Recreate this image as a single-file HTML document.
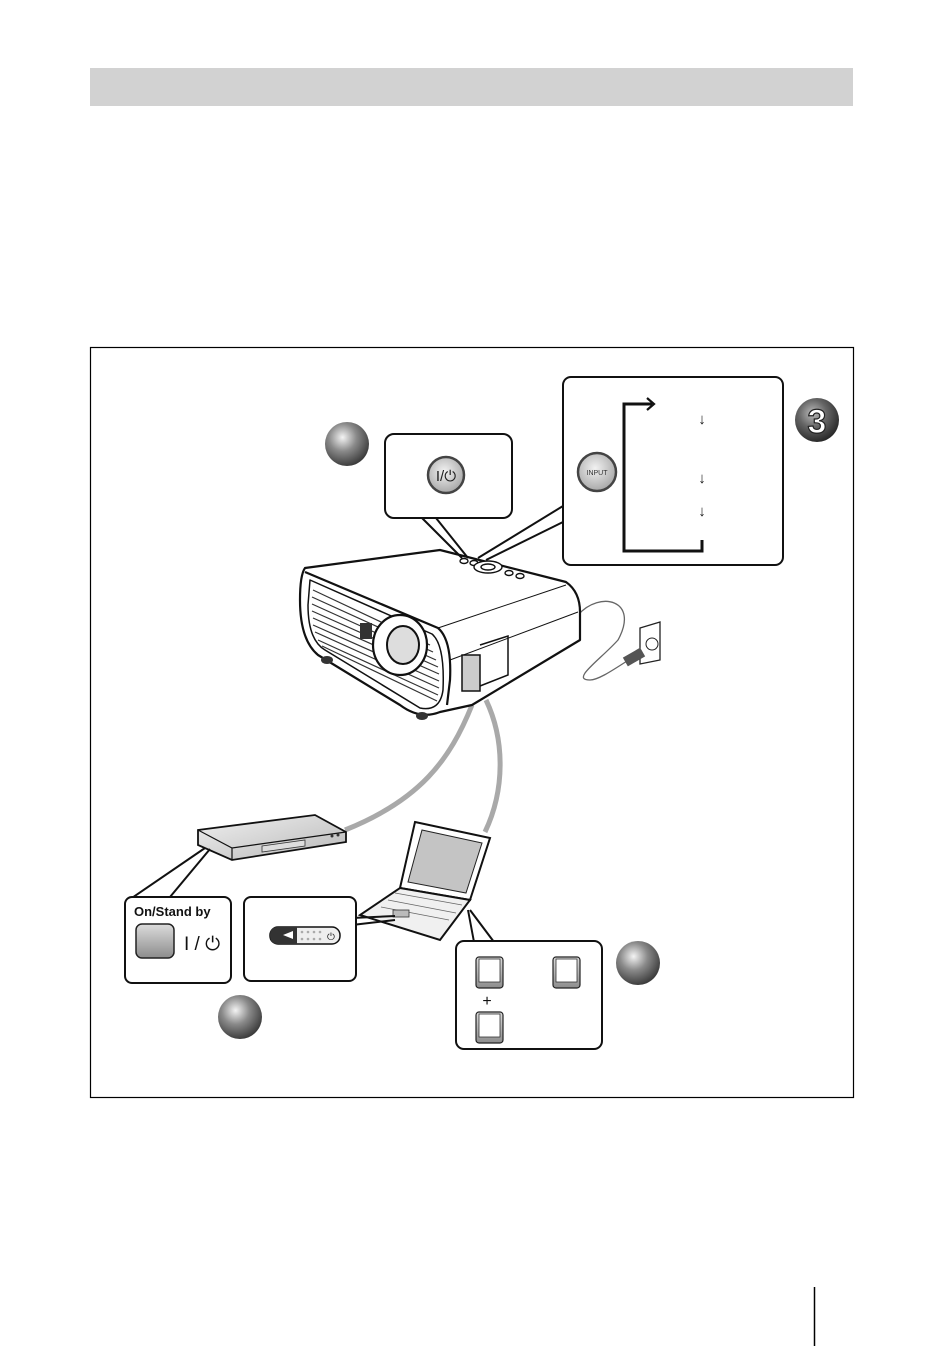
<!DOCTYPE html>
<html><head><meta charset="utf-8"><style>
html,body{margin:0;padding:0;background:#fff;}
svg{display:block;font-family:"Liberation Sans",sans-serif;}
</style></head><body>
<svg width="950" height="1346" viewBox="0 0 950 1346" xmlns="http://www.w3.org/2000/svg">
<defs>
<radialGradient id="ball" cx="0.4" cy="0.35" r="0.7">
<stop offset="0" stop-color="#f4f4f4"/><stop offset="0.45" stop-color="#8a8a8a"/><stop offset="1" stop-color="#333"/>
</radialGradient>
<radialGradient id="ball3" cx="0.4" cy="0.35" r="0.7">
<stop offset="0" stop-color="#bbb"/><stop offset="0.45" stop-color="#666"/><stop offset="1" stop-color="#222"/>
</radialGradient>
<radialGradient id="btn" cx="0.45" cy="0.4" r="0.6">
<stop offset="0" stop-color="#f2f2f2"/><stop offset="1" stop-color="#a8a8a8"/>
</radialGradient>
<linearGradient id="key" x1="0" y1="0" x2="0" y2="1">
<stop offset="0" stop-color="#dcdcdc"/><stop offset="1" stop-color="#8c8c8c"/>
</linearGradient>
<linearGradient id="dvd" x1="0" y1="0" x2="1" y2="1">
<stop offset="0" stop-color="#f0f0f0"/><stop offset="1" stop-color="#b8b8b8"/>
</linearGradient>
</defs>
<rect x="90" y="68" width="763" height="38" fill="#d2d2d2"/>
<rect x="90.5" y="347.5" width="763" height="750" fill="none" stroke="#000" stroke-width="1.2"/>
<line x1="814.5" y1="1287" x2="814.5" y2="1346" stroke="#000" stroke-width="1.5"/>

<g fill="none" stroke="#a9a9a9" stroke-width="5">
<path d="M472 705 C450 760 420 800 345 830"/>
<path d="M486 700 C505 740 505 790 485 832"/>
</g>
<path d="M578 615 C600 590 640 600 618 640 C600 660 570 680 590 680 C600 680 620 665 632 658" fill="none" stroke="#666" stroke-width="1.3"/>
<path d="M640 628 L660 622 L660 660 L640 664 Z" fill="#fff" stroke="#222" stroke-width="1.3"/>
<circle cx="652" cy="644" r="6" fill="none" stroke="#222"/>
<rect x="624" y="652" width="20" height="10" fill="#555" transform="rotate(-30 634 657)"/>

<g stroke="#111" stroke-width="2.2" stroke-linejoin="round">
<path d="M305 568 L440 550 L566 582 Q580 592 580 612 L580 640 L472 705 L440 712 Q420 720 400 705 L318 655 Q300 640 300 600 Q300 575 305 568 Z" fill="#fff"/>
<path d="M305 572 L438 628 Q452 640 450 680 L447 705" fill="none"/>
<path d="M438 628 L566 585" fill="none" stroke-width="1"/>
<path d="M450 660 L578 612" fill="none" stroke-width="1"/>
<path d="M310 580 L432 634 Q445 645 443 690 Q440 712 420 708 L325 650 Q308 640 308 605 Z" fill="#fff" stroke-width="1.5"/>
</g>
<g stroke="#333" stroke-width="1.2">
<line x1="313" y1="590" x2="430" y2="645"/><line x1="312" y1="597" x2="433" y2="652"/><line x1="312" y1="604" x2="436" y2="660"/>
<line x1="312" y1="611" x2="438" y2="667"/><line x1="313" y1="618" x2="439" y2="674"/><line x1="313" y1="625" x2="439" y2="681"/>
<line x1="315" y1="632" x2="439" y2="688"/><line x1="318" y1="640" x2="438" y2="695"/><line x1="322" y1="646" x2="437" y2="701"/>
</g>
<ellipse cx="400" cy="645" rx="27" ry="30" fill="#fff" stroke="#111" stroke-width="2.2"/>
<ellipse cx="403" cy="645" rx="16" ry="19" fill="#ddd" stroke="#111" stroke-width="2"/>
<rect x="360" y="623" width="12" height="16" fill="#333"/>
<rect x="462" y="655" width="18" height="36" fill="#ccc" stroke="#111" stroke-width="1.5"/>
<path d="M480 645 L508 636 L508 675 L480 686" fill="none" stroke="#111" stroke-width="1.5"/>
<g fill="#fff" stroke="#111" stroke-width="1.4">
<ellipse cx="464" cy="561" rx="4" ry="2.5"/><ellipse cx="474" cy="563" rx="4" ry="2.5"/>
<ellipse cx="488" cy="567" rx="14" ry="6"/><ellipse cx="488" cy="567" rx="7" ry="3"/>
<ellipse cx="509" cy="573" rx="4" ry="2.5"/><ellipse cx="520" cy="576" rx="4" ry="2.5"/>
</g>
<ellipse cx="327" cy="660" rx="6" ry="4" fill="#333"/><ellipse cx="422" cy="716" rx="6" ry="4" fill="#333"/>

<g stroke="#111" stroke-width="2" fill="none">
<line x1="422" y1="518" x2="462" y2="558"/><line x1="436" y1="518" x2="468" y2="558"/>
<line x1="563" y1="506" x2="478" y2="558"/><line x1="563" y1="522" x2="486" y2="560"/>
</g>
<rect x="385" y="434" width="127" height="84" rx="9" fill="#fff" stroke="#111" stroke-width="2"/>
<circle cx="446" cy="475" r="18" fill="url(#btn)" stroke="#444" stroke-width="2.5"/>
<text x="446" y="481" font-size="15" text-anchor="middle" fill="#222">I/⏻</text>
<circle cx="347" cy="444" r="22" fill="url(#ball)"/>

<rect x="563" y="377" width="220" height="188" rx="8" fill="#fff" stroke="#111" stroke-width="2"/>
<circle cx="597" cy="472" r="19" fill="url(#btn)" stroke="#444" stroke-width="2.5"/>
<text x="597" y="475" font-size="7" text-anchor="middle" fill="#333">INPUT</text>
<path d="M702 540 L702 551 L624 551 L624 404 L652 404" fill="none" stroke="#111" stroke-width="3"/>
<path d="M647 398 L654 404 L647 410" fill="none" stroke="#111" stroke-width="2.2"/>
<g font-size="15" font-weight="bold" text-anchor="middle" fill="#111"><text x="702" y="424">↓</text><text x="702" y="483">↓</text><text x="702" y="516">↓</text></g>
<circle cx="817" cy="420" r="22" fill="url(#ball3)"/>
<text x="817" y="433" font-size="34" font-weight="bold" text-anchor="middle" fill="#fff" stroke="#222" stroke-width="1.2">3</text>

<path d="M198 830 L315 815 L346 832 L346 842 L232 860 L198 845 Z" fill="url(#dvd)" stroke="#111" stroke-width="1.8"/>
<path d="M198 830 L232 848 L346 832 M232 848 L232 860" fill="none" stroke="#111" stroke-width="1.2"/>
<path d="M262 846 L305 840 L305 846 L262 852 Z" fill="#ddd" stroke="#333" stroke-width="0.8"/>
<circle cx="332" cy="836" r="1.5" fill="#333"/><circle cx="338" cy="835" r="1.5" fill="#333"/>
<line x1="205" y1="848" x2="126" y2="902" stroke="#111" stroke-width="2"/>
<line x1="210" y1="849" x2="170" y2="897" stroke="#111" stroke-width="2"/>
<rect x="125" y="897" width="106" height="86" rx="7" fill="#fff" stroke="#111" stroke-width="2"/>
<text x="134" y="916" font-size="13" font-weight="bold" fill="#111">On/Stand by</text>
<rect x="136" y="924" width="38" height="34" rx="6" fill="url(#key)" stroke="#222" stroke-width="1.5"/>
<text x="184" y="950" font-size="19" fill="#111">I / ⏻</text>
<circle cx="240" cy="1017" r="22" fill="url(#ball)"/>

<path d="M415 822 L490 838 L470 900 L400 888 Z" fill="#fff" stroke="#111" stroke-width="2"/>
<path d="M422 830 L482 843 L466 893 L408 882 Z" fill="#c4c4c4" stroke="#222" stroke-width="1"/>
<path d="M400 888 L470 900 L440 940 L360 915 Z" fill="#f0f0f0" stroke="#111" stroke-width="2"/>
<g stroke="#666" stroke-width="0.8"><line x1="395" y1="893" x2="462" y2="905"/><line x1="388" y1="900" x2="456" y2="913"/><line x1="381" y1="907" x2="449" y2="920"/></g>
<rect x="393" y="910" width="16" height="7" fill="#bbb" stroke="#333" stroke-width="0.8"/>
<line x1="352" y1="918" x2="395" y2="916" stroke="#111" stroke-width="2"/>
<line x1="352" y1="925" x2="395" y2="920" stroke="#111" stroke-width="2"/>
<rect x="244" y="897" width="112" height="84" rx="7" fill="#fff" stroke="#111" stroke-width="2"/>
<rect x="270" y="927" width="70" height="17" rx="8" fill="#eee" stroke="#111" stroke-width="1.5"/>
<path d="M270 935 Q270 927 278 927 L297 927 L297 944 L278 944 Q270 944 270 935Z" fill="#333"/>
<path d="M283 935 L293 931 L293 939Z" fill="#fff"/>
<g fill="#aaa"><circle cx="302" cy="932" r="1.3"/><circle cx="308" cy="932" r="1.3"/><circle cx="314" cy="932" r="1.3"/><circle cx="320" cy="932" r="1.3"/><circle cx="302" cy="939" r="1.3"/><circle cx="308" cy="939" r="1.3"/><circle cx="314" cy="939" r="1.3"/><circle cx="320" cy="939" r="1.3"/></g>
<text x="331" y="940" font-size="10" text-anchor="middle" fill="#222">⏻</text>
<line x1="468" y1="910" x2="474" y2="942" stroke="#111" stroke-width="2"/>
<line x1="470" y1="910" x2="494" y2="942" stroke="#111" stroke-width="2"/>
<rect x="456" y="941" width="146" height="108" rx="8" fill="#fff" stroke="#111" stroke-width="2"/>
<g fill="url(#key)" stroke="#222" stroke-width="1.2">
<rect x="476" y="957" width="27" height="31" rx="3"/><rect x="553" y="957" width="27" height="31" rx="3"/><rect x="476" y="1012" width="27" height="31" rx="3"/>
</g>
<g fill="#fff" stroke="#333" stroke-width="0.8">
<rect x="479" y="959" width="21" height="23"/><rect x="556" y="959" width="21" height="23"/><rect x="479" y="1014" width="21" height="23"/>
</g>
<text x="487" y="1006" font-size="16" text-anchor="middle" fill="#111">+</text>
<circle cx="638" cy="963" r="22" fill="url(#ball)"/>
</svg>
</body></html>
